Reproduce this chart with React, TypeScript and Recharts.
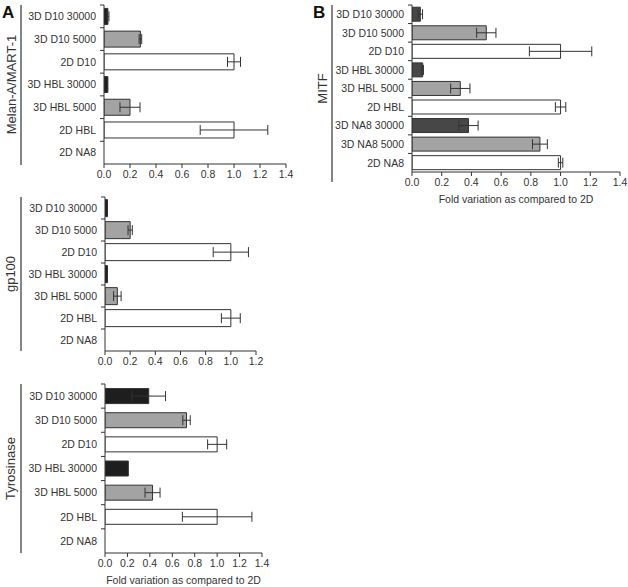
import { BarChart, Bar, XAxis, YAxis, ErrorBar, Cell } from "recharts";

// categories
const lineCats = [
  "3D D10 30000",
  "3D D10 5000",
  "2D D10",
  "3D HBL 30000",
  "3D HBL 5000",
  "2D HBL",
  "2D NA8",
];
const mitfCats = [
  "3D D10 30000",
  "3D D10 5000",
  "2D D10",
  "3D HBL 30000",
  "3D HBL 5000",
  "2D HBL",
  "3D NA8 30000",
  "3D NA8 5000",
  "2D NA8",
];

// fold variation + error
const melanValues = [0.03, 0.28, 1.0, 0.03, 0.2, 1.0, 0];
const melanErrors = [0.008, 0.01, 0.05, 0, 0.077, 0.26, 0];
const gp100Values = [0.02, 0.2, 1.0, 0.02, 0.098, 1.0, 0];
const gp100Errors = [0, 0.017, 0.14, 0, 0.03, 0.075, 0];
const tyrValues = [0.39, 0.727, 1.0, 0.208, 0.424, 1.0, 0];
const tyrErrors = [0.15, 0.033, 0.085, 0, 0.067, 0.31, 0];
const mitfValues = [0.056, 0.5, 1.0, 0.072, 0.325, 1.0, 0.38, 0.861, 1.0];
const mitfErrors = [0.015, 0.065, 0.21, 0.005, 0.065, 0.035, 0.065, 0.05, 0.015];

const ticks14 = [0, 0.2, 0.4, 0.6, 0.8, 1.0, 1.2, 1.4];
const ticks12 = [0, 0.2, 0.4, 0.6, 0.8, 1.0, 1.2];

const X_LABEL = "Fold variation as compared to 2D";
const FONT = '"Liberation Sans", Arial, Helvetica, sans-serif';
const INK = "#333";
const TOP = 5;

// eslint-disable-next-line @typescript-eslint/no-explicit-any
const CatTick = (props: any) => {
  const { y, payload, axisX, band } = props;
  return (
    <g>
      <line x1={axisX - 4} x2={axisX} y1={y - band / 2} y2={y - band / 2} stroke={INK} />
      <text
        x={axisX - 8}
        y={y}
        dy="0.36em"
        textAnchor="end"
        fontSize={10.5}
        fill={INK}
        fontFamily={FONT}
      >
        {payload.value}
      </text>
    </g>
  );
};

const barFill = (name: string, dark: string) => {
  if (name.includes("30000")) return dark;
  if (name.includes("5000")) return "#a3a3a3";
  return "#ffffff";
};

type PanelProps = {
  left: number;
  top: number;
  axisX: number;
  plotW: number;
  plotH: number;
  right: number;
  cats: string[];
  values: number[];
  errors: number[];
  ticks: number[];
  dark: string;
  title: string;
  titleX: number;
  lineX: number;
  lineExtra: number;
  gap: string;
  xLabel?: string;
};

function Panel(p: PanelProps) {
  const rows = p.cats.map((name, i) => ({ name, value: p.values[i], err: p.errors[i] }));
  const axisH = p.xLabel ? 40 : 20;
  const width = p.axisX + p.plotW + p.right;
  const height = TOP + p.plotH + axisH;
  const band = p.plotH / p.cats.length;
  const max = p.ticks[p.ticks.length - 1];

  return (
    <div style={{ position: "absolute", left: p.left, top: p.top, width, height }}>
      <BarChart
        width={width}
        height={height}
        data={rows}
        layout="vertical"
        margin={{ top: TOP, right: p.right, bottom: 0, left: 0 }}
        barCategoryGap={p.gap}
        style={{ fontFamily: FONT }}
      >
        <XAxis
          type="number"
          domain={[0, max]}
          ticks={p.ticks}
          allowDataOverflow
          height={axisH}
          tickFormatter={(v: number) => v.toFixed(1)}
          tick={{ fontSize: 10.5, fill: INK, fontFamily: FONT }}
          tickSize={4}
          tickMargin={3}
          axisLine={{ stroke: INK }}
          tickLine={{ stroke: INK }}
        />
        <YAxis
          type="category"
          dataKey="name"
          width={p.axisX}
          interval={0}
          axisLine={{ stroke: INK }}
          tickLine={false}
          tick={<CatTick axisX={p.axisX} band={band} />}
        />
        <Bar dataKey="value" stroke={INK} strokeWidth={1} isAnimationActive={false}>
          {rows.map((r) => (
            <Cell key={r.name} fill={barFill(r.name, p.dark)} />
          ))}
          <ErrorBar
            dataKey="err"
            direction="x"
            width={5}
            stroke={INK}
            strokeWidth={1}
            isAnimationActive={false}
          />
        </Bar>
      </BarChart>
      <svg
        width={width}
        height={height}
        style={{ position: "absolute", left: 0, top: 0, pointerEvents: "none" }}
      >
        <line
          x1={p.lineX}
          x2={p.lineX}
          y1={TOP}
          y2={TOP + p.plotH + p.lineExtra}
          stroke={INK}
          strokeWidth={1.2}
        />
        <text
          x={p.titleX}
          y={TOP + p.plotH / 2}
          transform={`rotate(-90 ${p.titleX} ${TOP + p.plotH / 2})`}
          textAnchor="middle"
          dominantBaseline="central"
          fontSize={13}
          fill={INK}
          fontFamily={FONT}
        >
          {p.title}
        </text>
        {p.xLabel && (
          <text
            x={p.axisX + p.plotW / 2}
            y={TOP + p.plotH + 27}
            textAnchor="middle"
            dominantBaseline="central"
            fontSize={10.5}
            fill={INK}
            fontFamily={FONT}
          >
            {p.xLabel}
          </text>
        )}
      </svg>
    </div>
  );
}

export default function App() {
  return (
    <div
      style={{
        position: "absolute",
        left: 0,
        top: 0,
        width: 628,
        height: 587,
        background: "#fff",
        fontFamily: FONT,
        overflow: "hidden",
      }}
    >
      <Panel
        left={0}
        top={0}
        axisX={104}
        plotW={182}
        plotH={159}
        right={14}
        cats={lineCats}
        values={melanValues}
        errors={melanErrors}
        ticks={ticks14}
        dark="#1e1e1e"
        title="Melan-A/MART-1"
        titleX={11}
        lineX={21}
        lineExtra={1}
        gap="15%"
      />
      <Panel
        left={0}
        top={192}
        axisX={105}
        plotW={151}
        plotH={154}
        right={14}
        cats={lineCats}
        values={gp100Values}
        errors={gp100Errors}
        ticks={ticks12}
        dark="#1e1e1e"
        title="gp100"
        titleX={10}
        lineX={21}
        lineExtra={0}
        gap="12%"
      />
      <Panel
        left={0}
        top={379}
        axisX={105}
        plotW={157}
        plotH={169}
        right={14}
        cats={lineCats}
        values={tyrValues}
        errors={tyrErrors}
        ticks={ticks14}
        dark="#1e1e1e"
        title="Tyrosinase"
        titleX={10}
        lineX={21}
        lineExtra={0}
        gap="19%"
        xLabel={X_LABEL}
      />
      <Panel
        left={300}
        top={0}
        axisX={112}
        plotW={208}
        plotH={167}
        right={8}
        cats={mitfCats}
        values={mitfValues}
        errors={mitfErrors}
        ticks={ticks14}
        dark="#474747"
        title="MITF"
        titleX={22}
        lineX={32}
        lineExtra={10}
        gap="12%"
        xLabel={X_LABEL}
      />
      <div style={{ position: "absolute", left: 2, top: 3, fontSize: 17, fontWeight: "bold", color: "#111" }}>
        A
      </div>
      <div style={{ position: "absolute", left: 313, top: 3, fontSize: 17, fontWeight: "bold", color: "#111" }}>
        B
      </div>
    </div>
  );
}
